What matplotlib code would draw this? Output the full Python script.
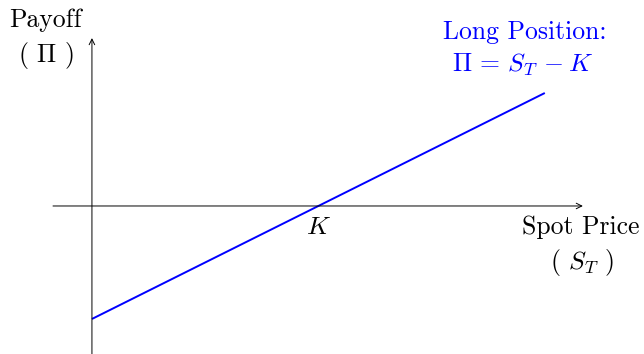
import matplotlib
matplotlib.use("Agg")
import matplotlib.pyplot as plt

# Long forward payoff: Pi = S_T - K
strike = 5
spot = [0, 5, 10]
payoff = [-5, 0, 5]

plt.rcParams["mathtext.fontset"] = "cm"
plt.rcParams["font.family"] = "cmr10"
plt.rcParams["axes.unicode_minus"] = False

fig = plt.figure(figsize=(6.44, 3.54), dpi=100)
ax = fig.add_axes([0, 0, 1, 1])
ax.set_xlim(-2.03, 12.19)
ax.set_ylim(-6.55, 9.115)
ax.axis("off")

# axes with arrow heads
arrow = dict(arrowstyle="->", color="black", lw=0.7, shrinkA=0, shrinkB=0)
ax.annotate("", xy=(10.84, 0), xytext=(-0.86, 0), arrowprops=arrow)
ax.annotate("", xy=(0, 7.43), xytext=(0, -6.6), arrowprops=arrow)

ax.plot(spot, payoff, color="blue", lw=1.4, solid_capstyle="butt")

fs = 18.5
ax.text(-1.02, 8.23, "Payoff", ha="center", va="center", fontsize=fs)
ax.text(-1.02, 6.68, r"( $\Pi$ )", ha="center", va="center", fontsize=fs)
ax.text(strike, -0.93, r"$K$", ha="center", va="center", fontsize=fs)
ax.text(10.79, -0.93, "Spot Price", ha="center", va="center", fontsize=fs)
ax.text(10.82, -2.48, r"( $S_T$ )", ha="center", va="center", fontsize=fs)
ax.text(9.56, 7.70, "Long Position:", ha="center", va="center",
        fontsize=fs, color="blue")
ax.text(9.50, 6.24, r"$\Pi\,=\,S_T\,-K$", ha="center", va="center",
        fontsize=fs, color="blue")

fig.savefig("out.png", dpi=100)
